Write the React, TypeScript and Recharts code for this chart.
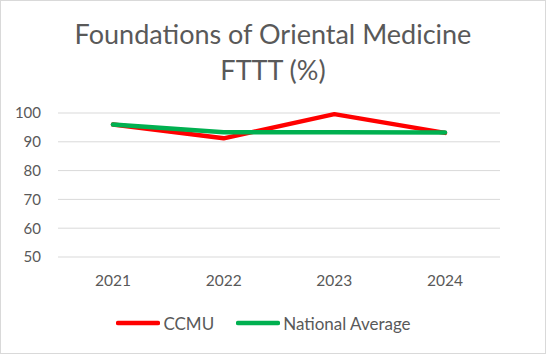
import React from "react";
import { LineChart, Line, XAxis, YAxis, CartesianGrid, Legend } from "recharts";

const years = ["2021", "2022", "2023", "2024"];
const ccmu = [96, 91.2, 99.6, 93.1];
const nationalAverage = [96, 93.3, 93.3, 93.2];
const yTicks = [50, 60, 70, 80, 90, 100];
const titleLines = ["Foundations of Oriental Medicine", "FTTT (%)"];

const data = years.map((y, i) => ({ year: y, CCMU: ccmu[i], "National Average": nationalAverage[i] }));

const FONT = "Lato, 'Open Sans', sans-serif";
const TEXT = "#595959";

const series = [
  { key: "CCMU", color: "#FF0000" },
  { key: "National Average", color: "#00B050" },
];

const LegendContent = () => (
  <div style={{ display: "flex", justifyContent: "center", alignItems: "center", height: 20, fontFamily: FONT, fontSize: 17, color: TEXT, paddingLeft: 27 }}>
    {series.map((s, i) => (
      <div key={s.key} style={{ display: "flex", alignItems: "center", marginLeft: i ? 22 : 0 }}>
        <svg width={44} height={6} style={{ marginRight: 3 }}>
          <line x1={2} y1={3} x2={42} y2={3} stroke={s.color} strokeWidth={4.5} strokeLinecap="round" />
        </svg>
        <span>{s.key}</span>
      </div>
    ))}
  </div>
);

export default function App() {
  return (
    <div style={{ position: "absolute", left: 0, top: 0, width: 546, height: 354, boxSizing: "border-box", border: "1px solid #d9d9d9", background: "#fff", overflow: "hidden" }}>
      <div style={{ position: "absolute", left: -1, top: 0, width: 546, textAlign: "center", fontFamily: FONT, fontSize: 27, color: TEXT, lineHeight: "36px", paddingTop: 15 }}>
        {titleLines.map((t) => (
          <div key={t}>{t}</div>
        ))}
      </div>
      <div style={{ position: "absolute", left: -1, top: -1 }}>
        <LineChart width={546} height={354} data={data} margin={{ top: 113, right: 46, bottom: 21, left: 0 }}>
          <CartesianGrid vertical={false} stroke="#d9d9d9" strokeWidth={1} />
          <XAxis dataKey="year" axisLine={false} tickLine={false} height={56} tickSize={0} tickMargin={18} padding={{ left: 55, right: 55 }} tick={{ fill: TEXT, fontSize: 15.5, fontFamily: FONT }} />
          <YAxis domain={[50, 100]} ticks={yTicks} axisLine={false} tickLine={false} width={58} tickSize={0} tickMargin={17} tick={{ fill: TEXT, fontSize: 15, fontFamily: FONT }} />
          <Legend verticalAlign="bottom" content={<LegendContent />} />
          {series.map((s) => (
            <Line key={s.key} dataKey={s.key} stroke={s.color} strokeWidth={4.5} dot={false} isAnimationActive={false} strokeLinejoin="round" strokeLinecap="round" />
          ))}
        </LineChart>
      </div>
    </div>
  );
}
